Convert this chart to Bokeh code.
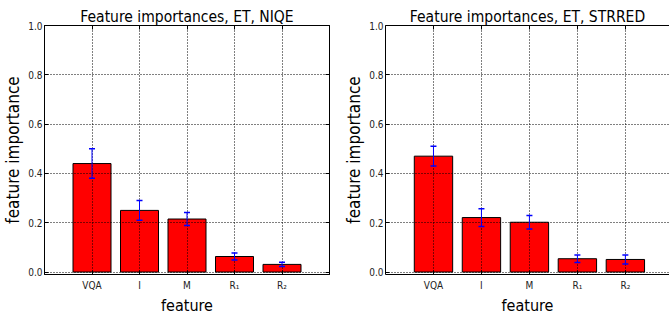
from bokeh.plotting import figure
from bokeh.models import (Range1d, LinearAxis, FixedTicker, Whisker, ColumnDataSource,
                          TeeHead)
from bokeh.layouts import row
from bokeh.embed import file_html
from bokeh.resources import INLINE

# ---- data ----
features = ["VQA", "I", "M", "R\u2081", "R\u2082"]
positions = [1, 2, 3, 4, 5]
niqe_importance = [0.44, 0.25, 0.215, 0.063, 0.031]
niqe_std = [0.06, 0.04, 0.026, 0.014, 0.009]
strred_importance = [0.47, 0.221, 0.202, 0.054, 0.051]
strred_std = [0.04, 0.036, 0.027, 0.015, 0.018]
y_ticks = [0.0, 0.2, 0.4, 0.6, 0.8, 1.0]
y_tick_labels = ["0.0", "0.2", "0.4", "0.6", "0.8", "1.0"]
titles = ["Feature importances, ET, NIQE", "Feature importances, ET, STRRED"]

FONT = "DejaVu Sans Condensed"


def blank_axis(p, side):
    ticks = positions if side == "above" else y_ticks
    ax = LinearAxis(ticker=FixedTicker(ticks=ticks))
    ax.major_label_overrides = {t: "" for t in ticks}
    ax.major_label_text_font_size = "9px"
    ax.major_label_standoff = 0
    ax.major_tick_in = 4
    ax.major_tick_out = 0
    ax.minor_tick_line_color = None
    ax.axis_line_color = "black"
    p.add_layout(ax, side)


def panel(title, vals, errs, width, border_left, border_right, x_end, right_spine):
    p = figure(width=width, height=318, output_backend="svg", toolbar_location=None,
               x_range=Range1d(0, x_end), y_range=Range1d(-0.01, 1.0),
               min_border_left=border_left, min_border_right=border_right,
               min_border_top=25, min_border_bottom=44)
    p.title.text = title
    p.title.text_font = FONT
    p.title.text_font_size = "15.5px"
    p.title.text_font_style = "normal"
    p.title.text_color = "black"
    p.title.align = "center"
    p.title.standoff = 0
    p.title.offset = 0

    src = ColumnDataSource(dict(
        x=positions, top=vals,
        upper=[v + e for v, e in zip(vals, errs)],
        lower=[v - e for v, e in zip(vals, errs)]))
    p.vbar(x="x", top="top", bottom=0, width=0.8, source=src,
           fill_color="red", line_color="black", line_width=1)
    p.add_layout(Whisker(base="x", upper="upper", lower="lower", source=src,
                         line_color="blue", line_width=1, level="overlay",
                         upper_head=TeeHead(size=6, line_color="blue", line_width=1.5),
                         lower_head=TeeHead(size=6, line_color="blue", line_width=1.5)))

    p.xaxis.ticker = FixedTicker(ticks=positions)
    p.xaxis.major_label_overrides = {x: f for x, f in zip(positions, features)}
    p.yaxis.ticker = FixedTicker(ticks=y_ticks)
    p.yaxis.major_label_overrides = {t: s for t, s in zip(y_ticks, y_tick_labels)}
    for ax in (p.xaxis[0], p.yaxis[0]):
        ax.major_label_text_font = FONT
        ax.major_label_text_font_size = "10px"
        ax.major_label_text_color = "#222222"
        ax.axis_label_text_font = FONT
        ax.axis_label_text_font_style = "normal"
        ax.axis_label_text_color = "black"
        ax.major_tick_in = 4
        ax.major_tick_out = 0
        ax.minor_tick_line_color = None
        ax.axis_line_color = "black"
    p.xaxis.axis_label = "feature"
    p.yaxis.axis_label = "feature importance"
    p.xaxis.axis_label_text_font_size = "16px"
    p.yaxis.axis_label_text_font_size = "17px"
    p.xaxis.major_label_standoff = 5
    p.xaxis.axis_label_standoff = 2
    p.yaxis.major_label_standoff = 2
    p.yaxis.axis_label_standoff = 2

    blank_axis(p, "above")
    if right_spine:
        blank_axis(p, "right")
        p.outline_line_color = "black"
    else:
        p.outline_line_color = None

    p.xgrid.ticker = FixedTicker(ticks=positions)
    p.ygrid.ticker = FixedTicker(ticks=y_ticks)
    for g in (p.xgrid[0], p.ygrid[0]):
        g.grid_line_color = "black"
        g.grid_line_dash = "1 2"
        g.grid_line_width = 1
        g.level = "overlay"
    return p


p1 = panel(titles[0], niqe_importance, niqe_std, 335, 41, 6, 6, True)
p2 = panel(titles[1], strred_importance, strred_std, 334, 50, 0, 5.92, False)
layout = row(p1, p2)

open("out.html", "w").write(file_html(layout, INLINE))
